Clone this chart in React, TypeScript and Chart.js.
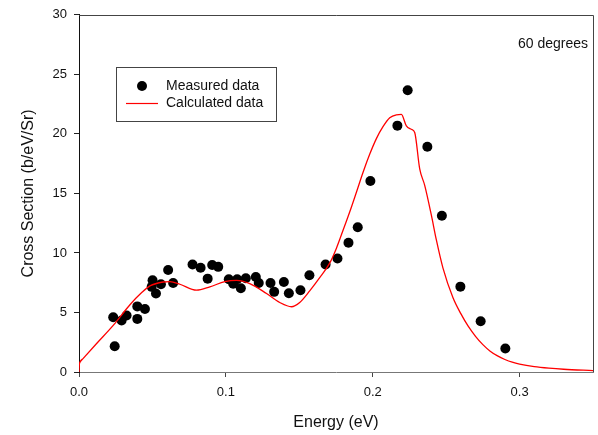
import React, { useEffect, useRef } from 'react';
import { Chart, registerables } from 'chart.js';

Chart.register(...registerables);

const measuredLabel = 'Measured data';
const calculatedLabel = 'Calculated data';
const annotationText = '60 degrees';

const measuredX = [
  0.0233, 0.0243, 0.029, 0.0324, 0.0397, 0.0397, 0.0449, 0.0495, 0.0501, 0.0524,
  0.0558, 0.0607, 0.0641, 0.0773, 0.0828, 0.0876, 0.0907, 0.0948, 0.102, 0.105,
  0.1077, 0.1102, 0.1136, 0.1204, 0.1224, 0.1304, 0.1329, 0.1395, 0.1429, 0.1508,
  0.1569, 0.1679, 0.176, 0.1835, 0.1898, 0.1984, 0.2168, 0.2238, 0.2372, 0.2471,
  0.2597, 0.2735, 0.2903,
];
const measuredY = [
  4.6, 2.16, 4.32, 4.74, 5.51, 4.46, 5.29, 7.15, 7.7, 6.59,
  7.37, 8.56, 7.48, 9.03, 8.75, 7.84, 8.98, 8.83, 7.79, 7.42,
  7.79, 7.04, 7.87, 7.98, 7.48, 7.48, 6.73, 7.56, 6.62, 6.87,
  8.12, 9.03, 9.53, 10.86, 12.16, 16.04, 20.69, 23.66, 18.92, 13.13,
  7.17, 4.26, 1.97,
];

const calcX = [
  0, 0.0002, 0.0007, 0.0029, 0.012, 0.0233, 0.0347, 0.0427, 0.0483, 0.0573,
  0.0619, 0.0687, 0.08, 0.0891, 0.0993, 0.1073, 0.1163, 0.1277, 0.1367, 0.1447,
  0.1503, 0.1571, 0.1639, 0.1707, 0.1753, 0.1798, 0.1845, 0.1889, 0.1935, 0.198,
  0.2025, 0.207, 0.2116, 0.2161, 0.2195, 0.2229, 0.2263, 0.2286, 0.232, 0.2354,
  0.2399, 0.2433, 0.2478, 0.2546, 0.26, 0.265, 0.27, 0.275, 0.28, 0.285,
  0.29, 0.295, 0.3, 0.31, 0.32, 0.33, 0.35,
];
const calcY = [
  0, 0.58, 0.83, 1.14, 2.39, 3.91, 5.65, 6.67, 7.23, 7.56,
  7.59, 7.37, 6.87, 7.15, 7.59, 7.7, 7.42, 6.59, 5.84, 5.48,
  5.84, 6.81, 7.92, 9.14, 10.4, 11.9, 13.5, 15.1, 16.8, 18.3,
  19.6, 20.6, 21.35, 21.6, 21.63, 20.67, 20.39, 20.11, 17.06, 15.68,
  13.19, 11.11, 8.75, 6.26, 4.9, 3.85, 3.0, 2.3, 1.75, 1.35,
  1.05, 0.82, 0.66, 0.45, 0.32, 0.23, 0.12,
];

const xTicks = [0, 0.1, 0.2, 0.3];
const yTicks = [0, 5, 10, 15, 20, 25, 30];

const FONT = "Arial, 'Liberation Sans', sans-serif";

const decorPlugin = {
  id: 'decor',
  afterDraw(chart: any) {
    const { ctx, chartArea } = chart;
    const { left, right, top, bottom } = chartArea;
    ctx.save();
    // top and right frame
    ctx.strokeStyle = '#444';
    ctx.lineWidth = 1;
    ctx.beginPath();
    ctx.moveTo(Math.round(left), Math.round(top) + 0.5);
    ctx.lineTo(Math.round(right) + 0.5, Math.round(top) + 0.5);
    ctx.lineTo(Math.round(right) + 0.5, Math.round(bottom));
    ctx.stroke();

    // annotation
    ctx.fillStyle = '#111';
    ctx.font = `14px ${FONT}`;
    ctx.textAlign = 'right';
    ctx.textBaseline = 'middle';
    ctx.fillText(annotationText, 588, 44);

    // legend box
    ctx.strokeStyle = '#444';
    ctx.strokeRect(116.5, 67.5, 160, 54);
    ctx.fillStyle = '#000';
    ctx.beginPath();
    ctx.arc(142, 86, 5, 0, Math.PI * 2);
    ctx.fill();
    ctx.strokeStyle = '#ff0000';
    ctx.lineWidth = 1.2;
    ctx.beginPath();
    ctx.moveTo(126, 103.5);
    ctx.lineTo(158, 103.5);
    ctx.stroke();
    ctx.fillStyle = '#111';
    ctx.textAlign = 'left';
    ctx.fillText(measuredLabel, 166, 86);
    ctx.fillText(calculatedLabel, 166, 103);
    ctx.restore();
  },
};

export default function App() {
  const ref = useRef<HTMLCanvasElement>(null);
  useEffect(() => {
    document.body.style.margin = '0';
    const canvas = ref.current!;
    Chart.defaults.font.family = FONT;
    const chart = new Chart(canvas, {
      type: 'scatter',
      data: {
        datasets: [
          {
            label: calculatedLabel,
            data: calcX.map((x, i) => ({ x, y: calcY[i] })),
            showLine: true,
            borderColor: '#ff0000',
            borderWidth: 1.3,
            pointRadius: 0,
            cubicInterpolationMode: 'monotone',
            fill: false,
          } as any,
          {
            label: measuredLabel,
            data: measuredX.map((x, i) => ({ x, y: measuredY[i] })),
            backgroundColor: '#000',
            borderColor: '#000',
            pointRadius: 5,
            pointBorderWidth: 0,
            showLine: false,
          },
        ],
      },
      options: {
        animation: false,
        responsive: false,
        devicePixelRatio: 1,
        layout: { padding: { left: 0, right: 5, top: 11, bottom: 0 } },
        plugins: { legend: { display: false }, tooltip: { enabled: false } },
        scales: {
          x: {
            type: 'linear',
            min: 0,
            max: 0.35,
            afterFit: (s: any) => { s.height = 63; },
            afterBuildTicks: (s: any) => { s.ticks = xTicks.map((v) => ({ value: v })); },
            grid: { display: true, drawOnChartArea: false, drawTicks: true, tickLength: 5, tickColor: '#444' },
            border: { display: true, color: '#777', width: 1 },
            ticks: {
              color: '#111',
              font: { size: 13 },
              padding: 8,
              callback: (v: any) => Number(v).toFixed(1),
            },
            title: { display: true, text: 'Energy (eV)', color: '#111', font: { size: 16 }, padding: { top: 0, bottom: 3 } },
          },
          y: {
            type: 'linear',
            min: 0,
            max: 30,
            afterFit: (s: any) => { s.width = 79; },
            afterBuildTicks: (s: any) => { s.ticks = yTicks.map((v) => ({ value: v })); },
            grid: { display: true, drawOnChartArea: false, drawTicks: true, tickLength: 5, tickColor: '#222' },
            border: { display: true, color: '#111', width: 1 },
            ticks: { color: '#111', font: { size: 13 }, padding: 7, callback: (v: any) => String(v) },
            title: { display: true, text: 'Cross Section (b/eV/Sr)', color: '#111', font: { size: 16 }, padding: { top: 19, bottom: 0 } },
          },
        },
      },
      plugins: [decorPlugin],
    });
    return () => chart.destroy();
  }, []);
  return (
    <div style={{ width: 598, height: 435 }}>
      <canvas ref={ref} width={598} height={435} />
    </div>
  );
}
